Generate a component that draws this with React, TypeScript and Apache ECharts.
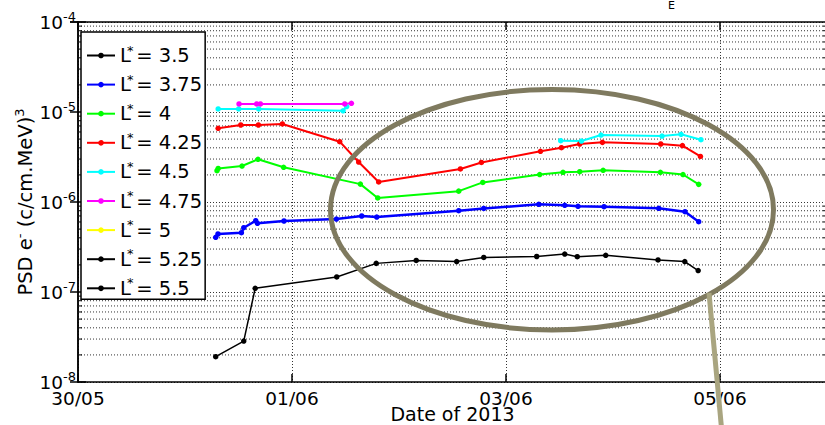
import React, { useEffect, useRef } from 'react';
import * as echarts from 'echarts';

// ---- data (x = days since 30/05/2013 00:00, y = PSD) ----
const L_NAMES = ['3.5', '3.75', '4', '4.25', '4.5', '4.75', '5', '5.25', '5.5'];

const t35 = [1.287, 1.549, 1.656, 2.418, 2.787, 3.161, 3.539, 3.792, 4.287, 4.549, 4.666, 4.932, 5.421, 5.671, 5.796];
const v35 = [1.91e-8, 2.85e-8, 1.10e-7, 1.47e-7, 2.08e-7, 2.24e-7, 2.18e-7, 2.42e-7, 2.48e-7, 2.64e-7, 2.47e-7, 2.56e-7, 2.27e-7, 2.18e-7, 1.73e-7];

const t375 = [1.287, 1.308, 1.527, 1.549, 1.661, 1.677, 1.925, 2.415, 2.651, 2.792, 3.558, 3.792, 4.306, 4.549, 4.673, 4.916, 5.427, 5.673, 5.801];
const v375 = [4.05e-7, 4.41e-7, 4.56e-7, 5.18e-7, 6.19e-7, 5.80e-7, 6.15e-7, 6.47e-7, 6.99e-7, 6.81e-7, 8.0e-7, 8.47e-7, 9.42e-7, 9.18e-7, 8.95e-7, 8.87e-7, 8.51e-7, 7.80e-7, 6.04e-7];

const t4 = [1.299, 1.310, 1.533, 1.682, 1.922, 2.639, 2.801, 3.558, 3.783, 4.315, 4.533, 4.689, 4.908, 5.443, 5.654, 5.801];
const v4 = [2.23e-6, 2.36e-6, 2.51e-6, 2.98e-6, 2.43e-6, 1.58e-6, 1.11e-6, 1.32e-6, 1.65e-6, 2.02e-6, 2.14e-6, 2.17e-6, 2.25e-6, 2.14e-6, 2.02e-6, 1.57e-6];

const t425 = [1.31, 1.521, 1.686, 1.91, 2.446, 2.623, 2.81, 3.574, 3.770, 4.322, 4.518, 4.689, 4.901, 5.446, 5.649, 5.817];
const v425 = [6.59e-6, 7.17e-6, 7.17e-6, 7.36e-6, 4.68e-6, 2.78e-6, 1.67e-6, 2.33e-6, 2.75e-6, 3.66e-6, 4.01e-6, 4.41e-6, 4.60e-6, 4.41e-6, 4.23e-6, 3.21e-6];

const t45 = [1.31, 1.502, 1.689, 2.477, 2.511, 3.5, 4.511, 4.705, 4.888, 5.458, 5.636, 5.822];
const v45 = [1.08e-5, 1.08e-5, 1.08e-5, 1.03e-5, 1.15e-5, null, 4.80e-6, 4.76e-6, 5.55e-6, 5.41e-6, 5.65e-6, 4.92e-6];

const t475 = [1.505, 1.67, 1.705, 2.493, 2.555];
const v475 = [1.23e-5, 1.23e-5, 1.23e-5, 1.23e-5, 1.25e-5];

const t5: number[] = [];
const v5: number[] = [];
const t525: number[] = [];
const v525: number[] = [];
const t55: number[] = [];
const v55: number[] = [];

const X_TICK_LABELS = ['30/05', '01/06', '03/06', '05/06'];
const X_MIN = 0;
const X_MAX = 7;
const X_INTERVAL = 2;
const Y_EXPONENTS = [-8, -7, -6, -5, -4];
const MINOR_MULTIPLIERS = [2, 3, 4, 5, 6, 7, 8, 9];

// ---- styles ----
const FONT = 'DejaVu Sans';
const COLORS = ['#000000', '#0000ff', '#00ff00', '#ff0000', '#00ffff', '#ff00ff', '#ffff00', '#000000', '#000000'];
const WIDTHS = [1.5, 2.5, 2, 2, 2, 2, 2, 1.5, 1.5];

const SERIES_T = [t35, t375, t4, t425, t45, t475, t5, t525, t55];
const SERIES_V = [v35, v375, v4, v425, v45, v475, v5, v525, v55];

function buildOption() {
  const minorValues: number[] = [];
  for (let i = 0; i < Y_EXPONENTS.length - 1; i++) {
    for (const m of MINOR_MULTIPLIERS) minorValues.push(m * Math.pow(10, Y_EXPONENTS[i]));
  }

  const lineSeries = L_NAMES.map((name, i) => ({
    type: 'line',
    name,
    xAxisIndex: 0,
    yAxisIndex: 0,
    data: SERIES_T[i].map((t, j) => [t, SERIES_V[i][j]]),
    connectNulls: false,
    symbol: 'circle',
    symbolSize: 5.5,
    showSymbol: true,
    lineStyle: { color: COLORS[i], width: WIDTHS[i] },
    itemStyle: { color: COLORS[i] },
    emphasis: { disabled: true },
    z: 3,
  }));

  const minorGrid = {
    type: 'custom',
    name: 'minor',
    xAxisIndex: 0,
    yAxisIndex: 0,
    silent: true,
    clip: false,
    z: 1,
    encode: { x: 0, y: 1 },
    data: minorValues.map((v) => [X_MIN, v]),
    renderItem: (params: any, api: any) => {
      const v = api.value(1);
      const l = api.coord([X_MIN, v]);
      const r = api.coord([X_MAX, v]);
      return {
        type: 'group',
        children: [
          { type: 'line', shape: { x1: l[0], y1: l[1], x2: r[0], y2: r[1] }, style: { stroke: '#333', lineWidth: 1, lineDash: [1, 2] } },
          { type: 'line', shape: { x1: l[0], y1: l[1], x2: l[0] + 4, y2: l[1] }, style: { stroke: '#000', lineWidth: 1 } },
          { type: 'line', shape: { x1: r[0] - 4, y1: r[1], x2: r[0], y2: r[1] }, style: { stroke: '#000', lineWidth: 1 } },
        ],
      };
    },
  };

  const xLabel = (v: number) => {
    const k = v / X_INTERVAL;
    return Number.isInteger(k) && X_TICK_LABELS[k] !== undefined ? X_TICK_LABELS[k] : '';
  };
  const yLabel = (v: number) => {
    const e = Math.round(Math.log10(v));
    return Y_EXPONENTS.includes(e) ? `{b|10}{s|${e}}` : '';
  };

  const axisLineStyle = { color: '#000', width: 1.5 };
  const dotted = { color: '#333', width: 1, type: [1, 2] as any };

  return {
    animation: false,
    backgroundColor: '#fff',
    grid: { left: 78, top: 22, width: 749, height: 360, outerBoundsMode: 'none', containLabel: false },
    xAxis: [
      {
        type: 'value',
        min: X_MIN,
        max: X_MAX,
        interval: X_INTERVAL,
        position: 'bottom',
        axisLine: { show: true, lineStyle: axisLineStyle },
        axisTick: { show: true, inside: true, length: 8, lineStyle: axisLineStyle },
        axisLabel: { formatter: xLabel, fontFamily: FONT, fontSize: 18.5, color: '#000', margin: 7 },
        splitLine: { show: true, lineStyle: dotted },
        name: 'Date of 2013',
        nameLocation: 'middle',
        nameGap: 23,
        nameMoveOverlap: false,
        nameTextStyle: { fontFamily: FONT, fontSize: 19, lineHeight: 18, color: '#000' },
      },
      {
        type: 'value',
        min: X_MIN,
        max: X_MAX,
        interval: X_INTERVAL,
        position: 'top',
        axisLine: { show: true, lineStyle: axisLineStyle },
        axisTick: { show: true, inside: true, length: 8, lineStyle: axisLineStyle },
        axisLabel: { show: false },
        splitLine: { show: false },
      },
    ],
    yAxis: [
      {
        type: 'log',
        logBase: 10,
        min: 1e-8,
        max: 1e-4,
        position: 'left',
        axisLine: { show: true, lineStyle: axisLineStyle },
        axisTick: { show: true, inside: true, length: 8, lineStyle: axisLineStyle },
        axisLabel: {
          formatter: yLabel,
          margin: 2,
          color: '#000',
          rich: {
            b: { fontFamily: FONT, fontSize: 18.5, lineHeight: 24, color: '#000' },
            s: { fontFamily: FONT, fontSize: 13, lineHeight: 13, verticalAlign: 'top', color: '#000' },
          },
        },
        splitLine: { show: true, lineStyle: dotted },
        name: '{n|PSD e}{s|-}{n| (c/cm.MeV)}{s|3}',
        nameLocation: 'middle',
        nameGap: 41,
        nameMoveOverlap: false,
        nameTextStyle: {
          color: '#000',
          rich: {
            n: { fontFamily: FONT, fontSize: 19.5, lineHeight: 24, color: '#000' },
            s: { fontFamily: FONT, fontSize: 13, lineHeight: 12, verticalAlign: 'top', color: '#000' },
          },
        },
      },
      {
        type: 'log',
        logBase: 10,
        min: 1e-8,
        max: 1e-4,
        position: 'right',
        axisLine: { show: true, lineStyle: axisLineStyle },
        axisTick: { show: true, inside: true, length: 8, lineStyle: axisLineStyle },
        axisLabel: { show: false },
        splitLine: { show: false },
      },
    ],
    legend: {
      data: L_NAMES,
      orient: 'vertical',
      left: 81,
      top: 32,
      padding: [11.5, 3, 1, 5],
      itemGap: 7.1,
      itemWidth: 28,
      itemHeight: 7,
      backgroundColor: '#fff',
      borderColor: '#000',
      borderWidth: 1.5,
      borderRadius: 0,
      selectedMode: false,
      formatter: (name: string) => `{a|L}{s|*}{b| = ${name}}`,
      textStyle: {
        color: '#000',
        fontFamily: FONT,
        fontSize: 19.5,
        rich: {
          a: { fontFamily: FONT, fontSize: 19.5, lineHeight: 24, width: 7, color: '#000' },
          s: { fontFamily: FONT, fontSize: 13, lineHeight: 10, verticalAlign: 'top', width: 3, color: '#000' },
          b: { fontFamily: FONT, fontSize: 19.5, lineHeight: 24, color: '#000' },
        },
      },
    },
    graphic: [
      {
        type: 'ellipse',
        silent: true,
        z: 100,
        shape: { cx: 552, cy: 209.75, rx: 221.5, ry: 120.25 },
        style: { fill: 'none', stroke: '#7f7a5f', lineWidth: 5 },
      },
      {
        type: 'line',
        silent: true,
        z: 100,
        shape: { x1: 709, y1: 293, x2: 721.5, y2: 428 },
        style: { stroke: '#a9a580', lineWidth: 5 },
      },
      {
        type: 'text',
        silent: true,
        z: 100,
        x: 668,
        y: 5,
        style: { text: 'E', fontFamily: FONT, fontSize: 11, fill: '#000', verticalAlign: 'middle' },
      },
    ],
    series: [minorGrid, ...lineSeries],
  };
}

export default function App() {
  const ref = useRef<HTMLDivElement>(null);
  useEffect(() => {
    const chart = echarts.init(ref.current!, null, { renderer: 'svg' });
    chart.setOption(buildOption() as any);
    return () => chart.dispose();
  }, []);
  return (
    <div
      ref={ref}
      style={{ position: 'fixed', left: 0, top: 0, width: 825, height: 425, background: '#fff' }}
    />
  );
}
